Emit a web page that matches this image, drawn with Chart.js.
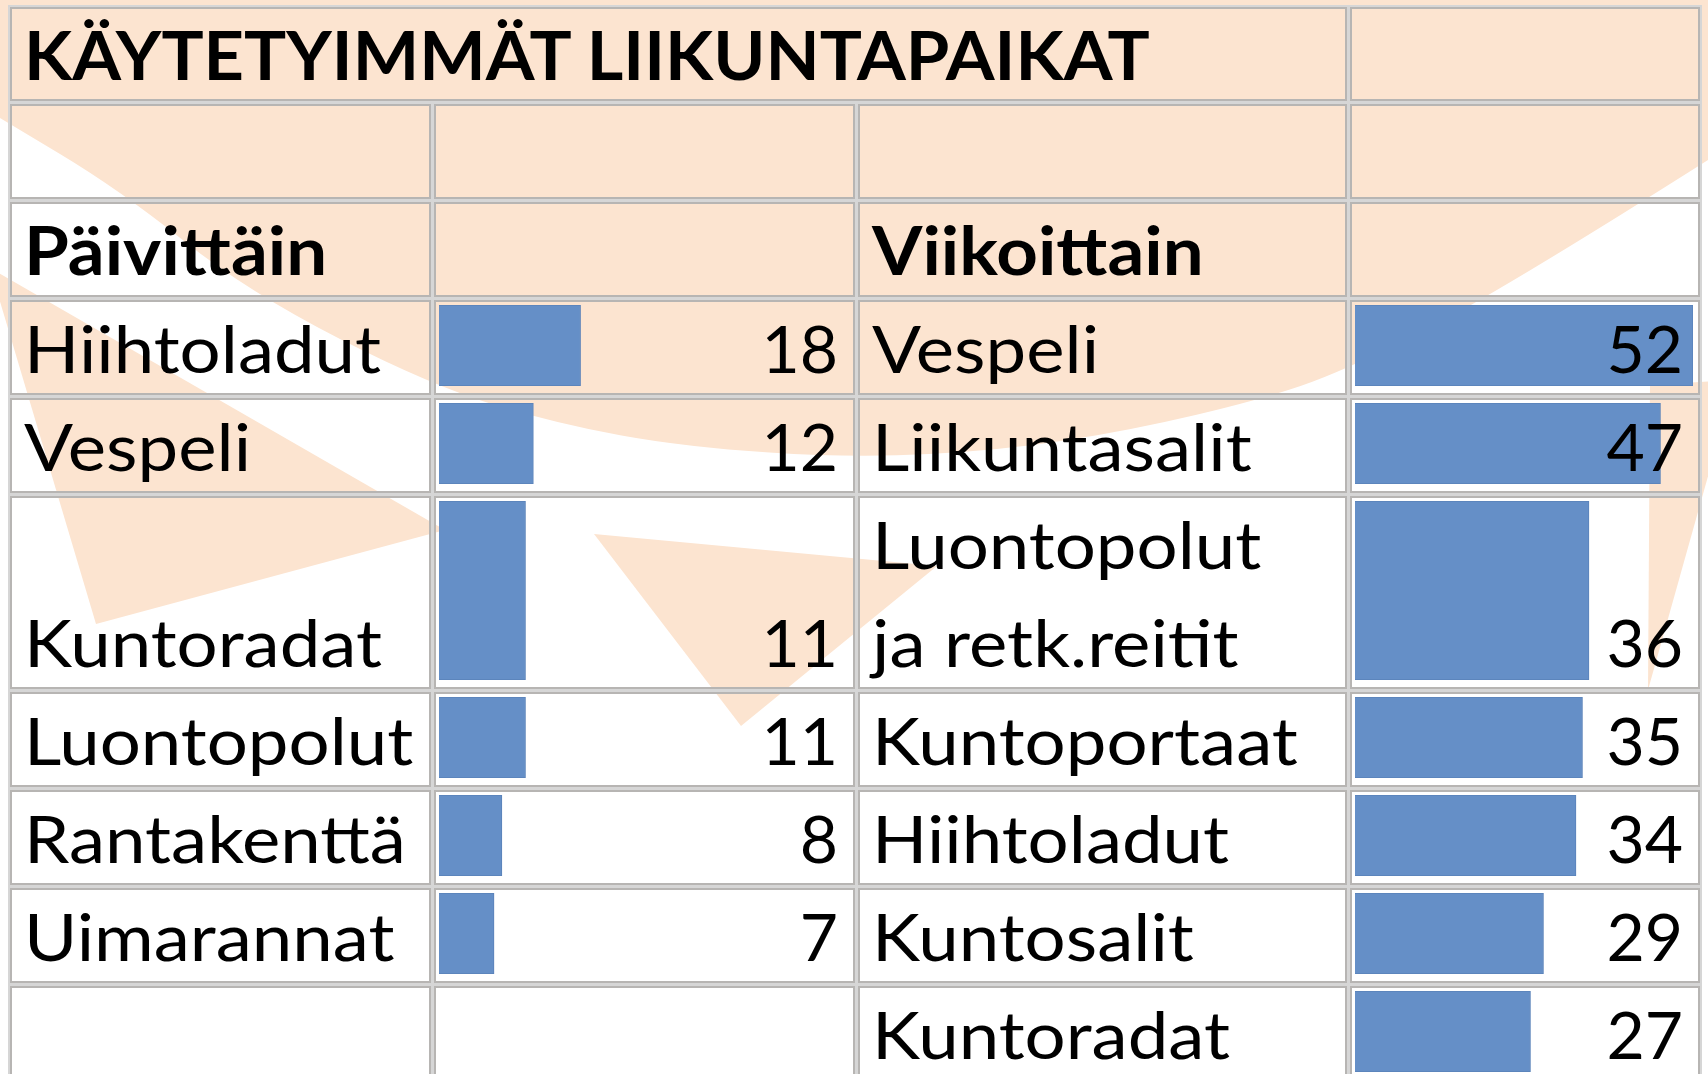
<!DOCTYPE html>
<html>
<head>
<meta charset="utf-8">
<script src="https://cdn.jsdelivr.net/npm/chart.js@4.4.1/dist/chart.umd.min.js"></script>
<style>
html, body { margin: 0; padding: 0; width: 1708px; height: 1074px; overflow: hidden; background: #fff; }
#wm { position: absolute; left: 0; top: 0; z-index: 0; }
.cell { position: absolute; box-sizing: border-box; border: 2px solid #b7b5b3; box-shadow: 0 0 0 2px #d6d6d6;
  display: flex; align-items: flex-end; padding: 0 15px 6px 12px; z-index: 2;
  font-family: Lato, 'Open Sans', sans-serif; font-size: 66px; line-height: 79px; color: #000; white-space: nowrap; }
.cell .ln { transform: scaleX(1.1); transform-origin: 0 100%; }
.cell .ln + .ln { margin-top: 19px; }
.cell.num { justify-content: flex-end; padding-right: 15px; }
.cell.num .ln { transform: none; }
.cell.bold { font-weight: bold; }
.cell.title { font-weight: bold; font-size: 67px; line-height: 80px; padding-bottom: 5px; }
.cell.title .ln { transform: scaleX(1.05); }
.bar { position: absolute; z-index: 1; }
</style>
</head>
<body>
<canvas id="wm" width="1708" height="1074"></canvas>
<script>
// data
const title = 'KÄYTETYIMMÄT LIIKUNTAPAIKAT';
const groupNames = ['Päivittäin', 'Viikoittain'];
const dailyPlaces = ['Hiihtoladut', 'Vespeli', 'Kuntoradat', 'Luontopolut', 'Rantakenttä', 'Uimarannat'];
const dailyCounts = [18, 12, 11, 11, 8, 7];
const weeklyPlaces = ['Vespeli', 'Liikuntasalit', 'Luontopolut\nja retk.reitit', 'Kuntoportaat', 'Hiihtoladut', 'Kuntosalit', 'Kuntoradat'];
const weeklyCounts = [52, 47, 36, 35, 34, 29, 27];

const BAR_COLOR = '#658fc7';
const PEACH = '#fce4d0';
const colX = [10, 434, 858, 1350, 1703];
const GAP = 3, PITCH = 98;
const maxCount = Math.max(...dailyCounts, ...weeklyCounts);

// faded logo behind the sheet
function drawWatermark() {
  const ctx = document.getElementById('wm').getContext('2d');
  ctx.fillStyle = PEACH;
  const edge = [[0,118],[120,190],[248,292],[432,386],[558,424],[685,447],[854,458],[1004,450],[1132,430],[1259,400],[1342,372],[1495,295],[1708,160]];
  ctx.beginPath();
  ctx.moveTo(0, 0); ctx.lineTo(1708, 0);
  ctx.lineTo(edge[edge.length-1][0], edge[edge.length-1][1]);
  for (let i = edge.length - 2; i > 0; i--) {
    const [x, y] = edge[i], [nx, ny] = edge[i-1];
    ctx.quadraticCurveTo(x, y, (x + nx) / 2, (y + ny) / 2);
  }
  ctx.lineTo(edge[0][0], edge[0][1]);
  ctx.closePath(); ctx.fill();
  const rays = [
    [[-10,268],[445,530],[96,624]],
    [[594,534],[937,566],[741,726]],
    [[1650,385],[1735,380],[1648,690]],
  ];
  for (const r of rays) {
    ctx.beginPath(); ctx.moveTo(r[0][0], r[0][1]);
    ctx.lineTo(r[1][0], r[1][1]); ctx.lineTo(r[2][0], r[2][1]);
    ctx.closePath(); ctx.fill();
  }
}
drawWatermark();

// rows: title, blank, group header, then data rows (wrapped labels make taller rows)
const nData = Math.max(dailyPlaces.length, weeklyPlaces.length);
const rowH = [94, 95, 95];
for (let i = 0; i < nData; i++) {
  const lines = Math.max((dailyPlaces[i] || '').split('\n').length, (weeklyPlaces[i] || '').split('\n').length);
  rowH.push(lines * PITCH - GAP);
}
const rowY = []; let yy = 7;
for (const h of rowH) { rowY.push(yy); yy += h + GAP; }

function addCell(c0, c1, r, cls, text) {
  const d = document.createElement('div');
  d.className = 'cell' + (cls ? ' ' + cls : '');
  d.style.left = colX[c0] + 'px'; d.style.top = rowY[r] + 'px';
  d.style.width = (colX[c1 + 1] - colX[c0] - GAP) + 'px'; d.style.height = rowH[r] + 'px';
  if (text !== undefined && text !== '') {
    const wrap = document.createElement('div');
    for (const l of String(text).split('\n')) {
      const s = document.createElement('div'); s.className = 'ln'; s.textContent = l; wrap.appendChild(s);
    }
    d.appendChild(wrap);
  }
  document.body.appendChild(d);
}

function addBar(col, r, label, value) {
  const x = colX[col] + 5, w = colX[col + 1] - colX[col] - GAP - 12;
  const cv = document.createElement('canvas');
  cv.className = 'bar'; cv.width = w; cv.height = rowH[r] - 14;
  cv.style.left = x + 'px'; cv.style.top = (rowY[r] + 5) + 'px';
  document.body.appendChild(cv);
  new Chart(cv, {
    type: 'bar',
    data: { labels: [label], datasets: [{ data: [value], backgroundColor: BAR_COLOR, borderColor: '#5a82b9', borderWidth: 1, barPercentage: 1, categoryPercentage: 1 }] },
    options: {
      indexAxis: 'y', responsive: false, animation: false, events: [],
      layout: { padding: 0 },
      plugins: { legend: { display: false }, tooltip: { enabled: false } },
      scales: { x: { display: false, min: 0, max: maxCount }, y: { display: false } },
    },
  });
}

addCell(0, 2, 0, 'title', title); addCell(3, 3, 0);
for (let c = 0; c < 4; c++) addCell(c, c, 1);
addCell(0, 0, 2, 'bold', groupNames[0]); addCell(1, 1, 2);
addCell(2, 2, 2, 'bold', groupNames[1]); addCell(3, 3, 2);

for (let i = 0; i < nData; i++) {
  const r = 3 + i;
  addCell(0, 0, r, '', dailyPlaces[i] || '');
  addCell(1, 1, r, 'num', dailyCounts[i] != null ? dailyCounts[i] : '');
  if (dailyCounts[i] != null) addBar(1, r, dailyPlaces[i], dailyCounts[i]);
  addCell(2, 2, r, '', weeklyPlaces[i] || '');
  addCell(3, 3, r, 'num', weeklyCounts[i] != null ? weeklyCounts[i] : '');
  if (weeklyCounts[i] != null) addBar(3, r, weeklyPlaces[i], weeklyCounts[i]);
}
</script>
</body>
</html>
